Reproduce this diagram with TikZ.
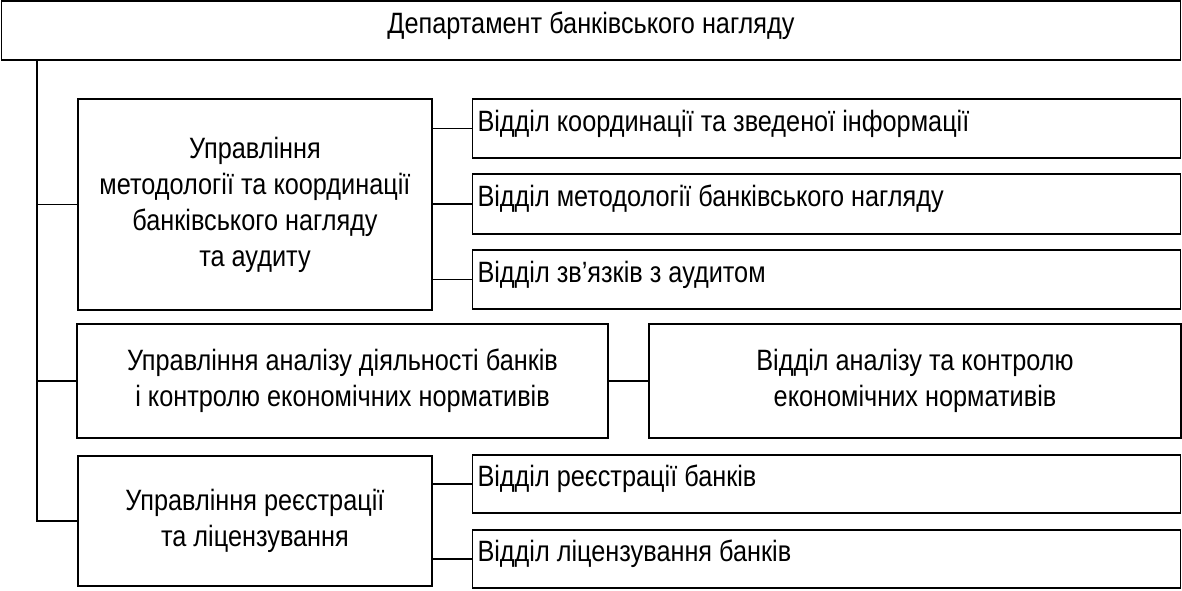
\documentclass[tikz,border=0pt]{standalone}
\usepackage{fontspec}
\setmainfont[FakeStretch=0.86]{Liberation Sans}
\begin{document}
\begin{tikzpicture}[x=1pt,y=-1pt,
  box/.style={draw,line width=1.6pt,rectangle,inner sep=0pt,align=center,
    font=\fontsize{29.4}{36}\selectfont},
  raised/.style={text height=21pt,text depth=16pt},
  lbox/.style={box,raised,align=flush left,text width=#1,inner xsep=5pt},
  conn/.style={line width=1.4pt}]
\useasboundingbox (0,0) rectangle (1182,590);
\node[box,raised,minimum width=1179pt,minimum height=59pt] (top) at (591,30.5) {Департамент банківського нагляду};
\node[box,minimum width=354pt,minimum height=211pt] (b1) at (255,204.5)
  {Управління\\методології та координації\\банківського нагляду\\та аудиту};
\node[lbox=698pt,minimum height=59pt] (r1a) at (826.5,128.5) {Відділ координації та зведеної інформації};
\node[lbox=698pt,minimum height=60pt] (r1b) at (826.5,204) {Відділ методології банківського нагляду};
\node[lbox=698pt,minimum height=59pt] (r1c) at (826.5,279.5) {Відділ зв’язків з аудитом};
\node[box,minimum width=531pt,minimum height=114pt] (b2) at (342.5,381)
  {Управління аналізу діяльності банків\\і контролю економічних нормативів};
\node[box,minimum width=532pt,minimum height=114pt] (r2) at (915,381)
  {Відділ аналізу та контролю\\економічних нормативів};
\node[box,minimum width=354pt,minimum height=130pt] (b3) at (255,521)
  {Управління реєстрації\\та ліцензування};
\node[lbox=698pt,minimum height=58pt] (r3a) at (826.5,484) {Відділ реєстрації банків};
\node[lbox=698pt,minimum height=58pt] (r3b) at (826.5,559) {Відділ ліцензування банків};
\coordinate (t) at (37,60);
\draw[conn] (t) |- (b3.west);
\draw[conn] (t |- b1.west) -- (b1.west);
\draw[conn] (t |- b2.west) -- (b2.west);
\draw[conn] (b1.east |- r1a.west) -- (r1a.west);
\draw[conn] (b1.east |- r1b.west) -- (r1b.west);
\draw[conn] (b1.east |- r1c.west) -- (r1c.west);
\draw[conn] (b2.east) -- (r2.west);
\draw[conn] (b3.east |- r3a.west) -- (r3a.west);
\draw[conn] (b3.east |- r3b.west) -- (r3b.west);
\end{tikzpicture}
\end{document}
